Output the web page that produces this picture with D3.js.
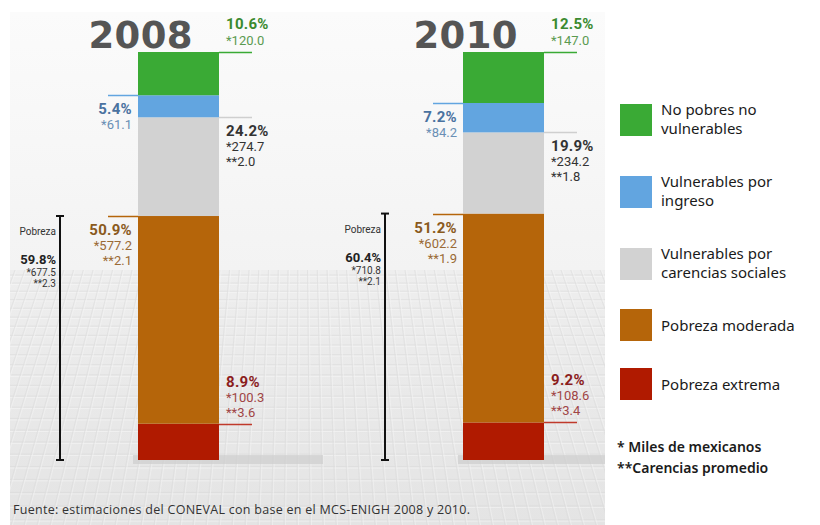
<!DOCTYPE html>
<html><head><meta charset="utf-8">
<script src="https://cdn.jsdelivr.net/npm/d3@7"></script>
<style>body{margin:0;background:#fff}svg{display:block}</style>
</head><body>
<svg id="c" width="820" height="525"></svg>
<script>
const years = ["2008", "2010"];
const categories = ["No pobres no vulnerables", "Vulnerables por ingreso", "Vulnerables por carencias sociales", "Pobreza moderada", "Pobreza extrema"];
const legendLines = [["No pobres no", "vulnerables"], ["Vulnerables por", "ingreso"], ["Vulnerables por", "carencias sociales"], ["Pobreza moderada"], ["Pobreza extrema"]];
const pct2008 = [10.6, 5.4, 24.2, 50.9, 8.9];
const pct2010 = [12.5, 7.2, 19.9, 51.2, 9.2];
const miles2008 = [120.0, 61.1, 274.7, 577.2, 100.3];
const miles2010 = [147.0, 84.2, 234.2, 602.2, 108.6];
const carencias2008 = [null, null, 2.0, 2.1, 3.6];
const carencias2010 = [null, null, 1.8, 1.9, 3.4];
const pobrezaPct = [59.8, 60.4];
const pobrezaMiles = [677.5, 710.8];
const pobrezaCarencias = [2.3, 2.1];
const notes = ["* Miles de mexicanos", "**Carencias promedio"];
const source = "Fuente: estimaciones del CONEVAL con base en el MCS-ENIGH 2008 y 2010.";

const colors = ["#3aaa35", "#62a5e0", "#d2d2d2", "#b5650a", "#b01a00"];
const lineColors = ["#3aaa35", "#62a5e0", "#cfcfcf", "#b5650a", "#c0392b"];
const pctColors = ["#3a8a2e", "#4a72a0", "#333333", "#8a5a1c", "#8b1d1d"];
const subColors = ["#5a9a50", "#6a8fb5", "#333333", "#9a6a35", "#a04545"];
// layout per category: side of label, whether text above line
const sides = ["right", "left", "right", "left", "right"];
const above = [true, false, false, false, true];
const legendTops = [104, 176, 248, 309, 368];

const svg = d3.select("#c");
const defs = svg.append("defs");
const g1 = defs.append("linearGradient").attr("id", "wall").attr("x1", 0).attr("y1", 0).attr("x2", 0).attr("y2", 1);
g1.append("stop").attr("offset", 0).attr("stop-color", "#fbfbfb");
g1.append("stop").attr("offset", 1).attr("stop-color", "#f3f3f3");
const g2 = defs.append("linearGradient").attr("id", "floor").attr("x1", 0).attr("y1", 0).attr("x2", 0).attr("y2", 1);
g2.append("stop").attr("offset", 0).attr("stop-color", "#eeeeee");
g2.append("stop").attr("offset", 1).attr("stop-color", "#e4e4e4");

// background panel
const panel = {x0: 10, x1: 605, y0: 12, floor: 270, y1: 525};
defs.append("clipPath").attr("id", "pc").append("rect").attr("x", panel.x0).attr("y", panel.y0).attr("width", panel.x1 - panel.x0).attr("height", panel.y1 - panel.y0);
defs.append("clipPath").attr("id", "fc").append("rect").attr("x", panel.x0).attr("y", panel.floor).attr("width", panel.x1 - panel.x0).attr("height", panel.y1 - panel.floor);
svg.append("rect").attr("x", panel.x0).attr("y", panel.y0).attr("width", panel.x1 - panel.x0).attr("height", panel.floor - panel.y0).attr("fill", "url(#wall)");
svg.append("rect").attr("x", panel.x0).attr("y", panel.floor).attr("width", panel.x1 - panel.x0).attr("height", panel.y1 - panel.floor).attr("fill", "url(#floor)");
const grid = svg.append("g").attr("clip-path", "url(#fc)").attr("opacity", 0.7);
for (let yy = panel.floor + 5, s = 8; yy < panel.y1; yy += s, s *= 1.025) {
  grid.append("line").attr("x1", panel.x0).attr("x2", panel.x1).attr("y1", yy).attr("y2", yy)
    .attr("stroke", "#d9d9d9").attr("stroke-width", 0.8);
  grid.append("line").attr("x1", panel.x0).attr("x2", panel.x1).attr("y1", yy + 1.5).attr("y2", yy + 1.5)
    .attr("stroke", "#f8f8f8").attr("stroke-width", 0.8);
}
const vx = 300;
for (let xb = -600; xb < 1200; xb += 13) {
  const xt = vx + (xb - vx) * 0.75;
  grid.append("line").attr("x1", xt).attr("y1", panel.floor).attr("x2", xb).attr("y2", panel.y1)
    .attr("stroke", "#dadada").attr("stroke-width", 0.8);
  grid.append("line").attr("x1", xt + 1.5).attr("y1", panel.floor).attr("x2", xb + 1.5).attr("y2", panel.y1)
    .attr("stroke", "#f7f7f7").attr("stroke-width", 0.7);
}

// scales
const x = d3.scaleBand().domain(years).range([138, 544]).paddingInner(0.7508);
const y = d3.scaleLinear().domain([0, 100]).range([460, 52]);

const rows = years.map((yr, i) => {
  const pct = i === 0 ? pct2008 : pct2010;
  const o = {year: yr};
  categories.forEach((c, j) => o[c] = pct[j]);
  return o;
});
const stack = d3.stack().keys(categories.slice().reverse());
const series = stack(rows);

// floor shadows
const sh = svg.append("g").attr("clip-path", "url(#pc)");
years.forEach(yr => {
  sh.append("rect").attr("x", x(yr) - 5).attr("y", y(0) - 5).attr("width", 190).attr("height", 9)
    .attr("fill", "#cdcdcd").attr("opacity", 0.7);
});

// bars
series.forEach(s => {
  const ci = categories.indexOf(s.key);
  svg.append("g").selectAll("rect").data(s).join("rect")
    .attr("x", d => x(d.data.year))
    .attr("width", x.bandwidth())
    .attr("y", d => y(d[1]))
    .attr("height", d => y(d[0]) - y(d[1]))
    .attr("fill", colors[ci]);
});

const f1 = d3.format(".1f");

// year titles
years.forEach(yr => {
  svg.append("text").attr("x", x(yr) + x.bandwidth() / 2 - 38).attr("y", 48)
    .attr("text-anchor", "middle").attr("font-family", "DejaVu Sans").attr("font-weight", "bold")
    .attr("font-size", 37).attr("fill", "#555").attr("textLength", 104).text(yr);
});

// segment labels
series.forEach(s => {
  const ci = categories.indexOf(s.key);
  s.forEach((d, yi) => {
    const yr = d.data.year;
    const pct = yi === 0 ? pct2008 : pct2010;
    const miles = yi === 0 ? miles2008 : miles2010;
    const car = yi === 0 ? carencias2008 : carencias2010;
    const ly = Math.round(y(d[1])) + 0.5;
    const left = x(yr), right = x(yr) + x.bandwidth();
    const isR = sides[ci] === "right";
    svg.append("line").attr("x1", isR ? right : left - 30).attr("x2", isR ? right + 33 : left)
      .attr("y1", ly).attr("y2", ly).attr("stroke", lineColors[ci]).attr("stroke-width", 1.5);
    const lines = [{t: pct[ci].toFixed(1) + "%", big: true}, {t: "*" + f1(miles[ci])}];
    if (car[ci] != null) lines.push({t: "**" + f1(car[ci])});
    const tx = isR ? right + 7 : left - 6;
    let bases;
    if (above[ci]) {
      bases = lines.map((l, k) => ly - 8 - (lines.length - 1 - k) * 14.5);
      bases[0] -= 1;
    } else {
      bases = lines.map((l, k) => ly + 18.5 + k * 15);
    }
    lines.forEach((l, k) => {
      svg.append("text").attr("x", tx).attr("y", bases[k])
        .attr("text-anchor", isR ? "start" : "end")
        .attr("font-family", "Roboto, 'DejaVu Sans', sans-serif")
        .attr("font-weight", l.big ? "bold" : "normal")
        .attr("font-size", l.big ? 15 : 13)
        .attr("letter-spacing", l.big ? 0.3 : 0)
        .attr("fill", l.big ? pctColors[ci] : subColors[ci])
        .text(l.t);
    });
  });
});

// Pobreza brackets
years.forEach((yr, i) => {
  const bx = x(yr) - 78;
  const pct = i === 0 ? pct2008 : pct2010;
  const top = y(pct[3] + pct[4]);
  const bot = y(0);
  const gb = svg.append("g").attr("stroke", "#111").attr("stroke-width", 2);
  gb.append("line").attr("x1", bx).attr("x2", bx).attr("y1", top).attr("y2", bot);
  gb.append("line").attr("x1", bx - 4).attr("x2", bx + 4).attr("y1", top).attr("y2", top);
  gb.append("line").attr("x1", bx - 4).attr("x2", bx + 4).attr("y1", bot).attr("y2", bot);
  const tx = bx - 4;
  const ff = "Roboto, 'DejaVu Sans', sans-serif";
  svg.append("text").attr("x", tx).attr("y", top + 19).attr("text-anchor", "end").attr("font-family", ff)
    .attr("font-size", 10).attr("fill", "#333").text("Pobreza");
  svg.append("text").attr("x", tx).attr("y", top + 48).attr("text-anchor", "end").attr("font-family", ff)
    .attr("font-weight", "bold").attr("font-size", 13).attr("fill", "#222").text(pobrezaPct[i].toFixed(1) + "%");
  svg.append("text").attr("x", tx).attr("y", top + 60).attr("text-anchor", "end").attr("font-family", ff)
    .attr("font-size", 10).attr("fill", "#333").text("*" + f1(pobrezaMiles[i]));
  svg.append("text").attr("x", tx).attr("y", top + 71).attr("text-anchor", "end").attr("font-family", ff)
    .attr("font-size", 10).attr("fill", "#333").text("**" + f1(pobrezaCarencias[i]));
});

// legend
const leg = svg.append("g");
categories.forEach((c, i) => {
  const yy = legendTops[i];
  leg.append("rect").attr("x", 620).attr("y", yy).attr("width", 32).attr("height", 32).attr("fill", colors[i]);
  const ll = legendLines[i];
  ll.forEach((t, k) => {
    leg.append("text").attr("x", 661)
      .attr("y", ll.length === 1 ? yy + 22 : yy + 11 + k * 19)
      .attr("font-family", "'Noto Sans', 'Open Sans', sans-serif").attr("font-size", 15)
      .attr("fill", "#1a1a1a").text(t);
  });
});
notes.forEach((t, k) => {
  leg.append("text").attr("x", 617).attr("y", 452 + k * 21)
    .attr("font-family", "'Noto Sans', 'Open Sans', sans-serif").attr("font-size", 14)
    .attr("font-weight", 600).attr("fill", "#1a1a1a").text(t);
});

// source
svg.append("text").attr("x", 13).attr("y", 514).attr("font-family", "'Open Sans', sans-serif")
  .attr("font-size", 12.5).attr("fill", "#333").attr("textLength", 457).text(source);
</script>
</body></html>
